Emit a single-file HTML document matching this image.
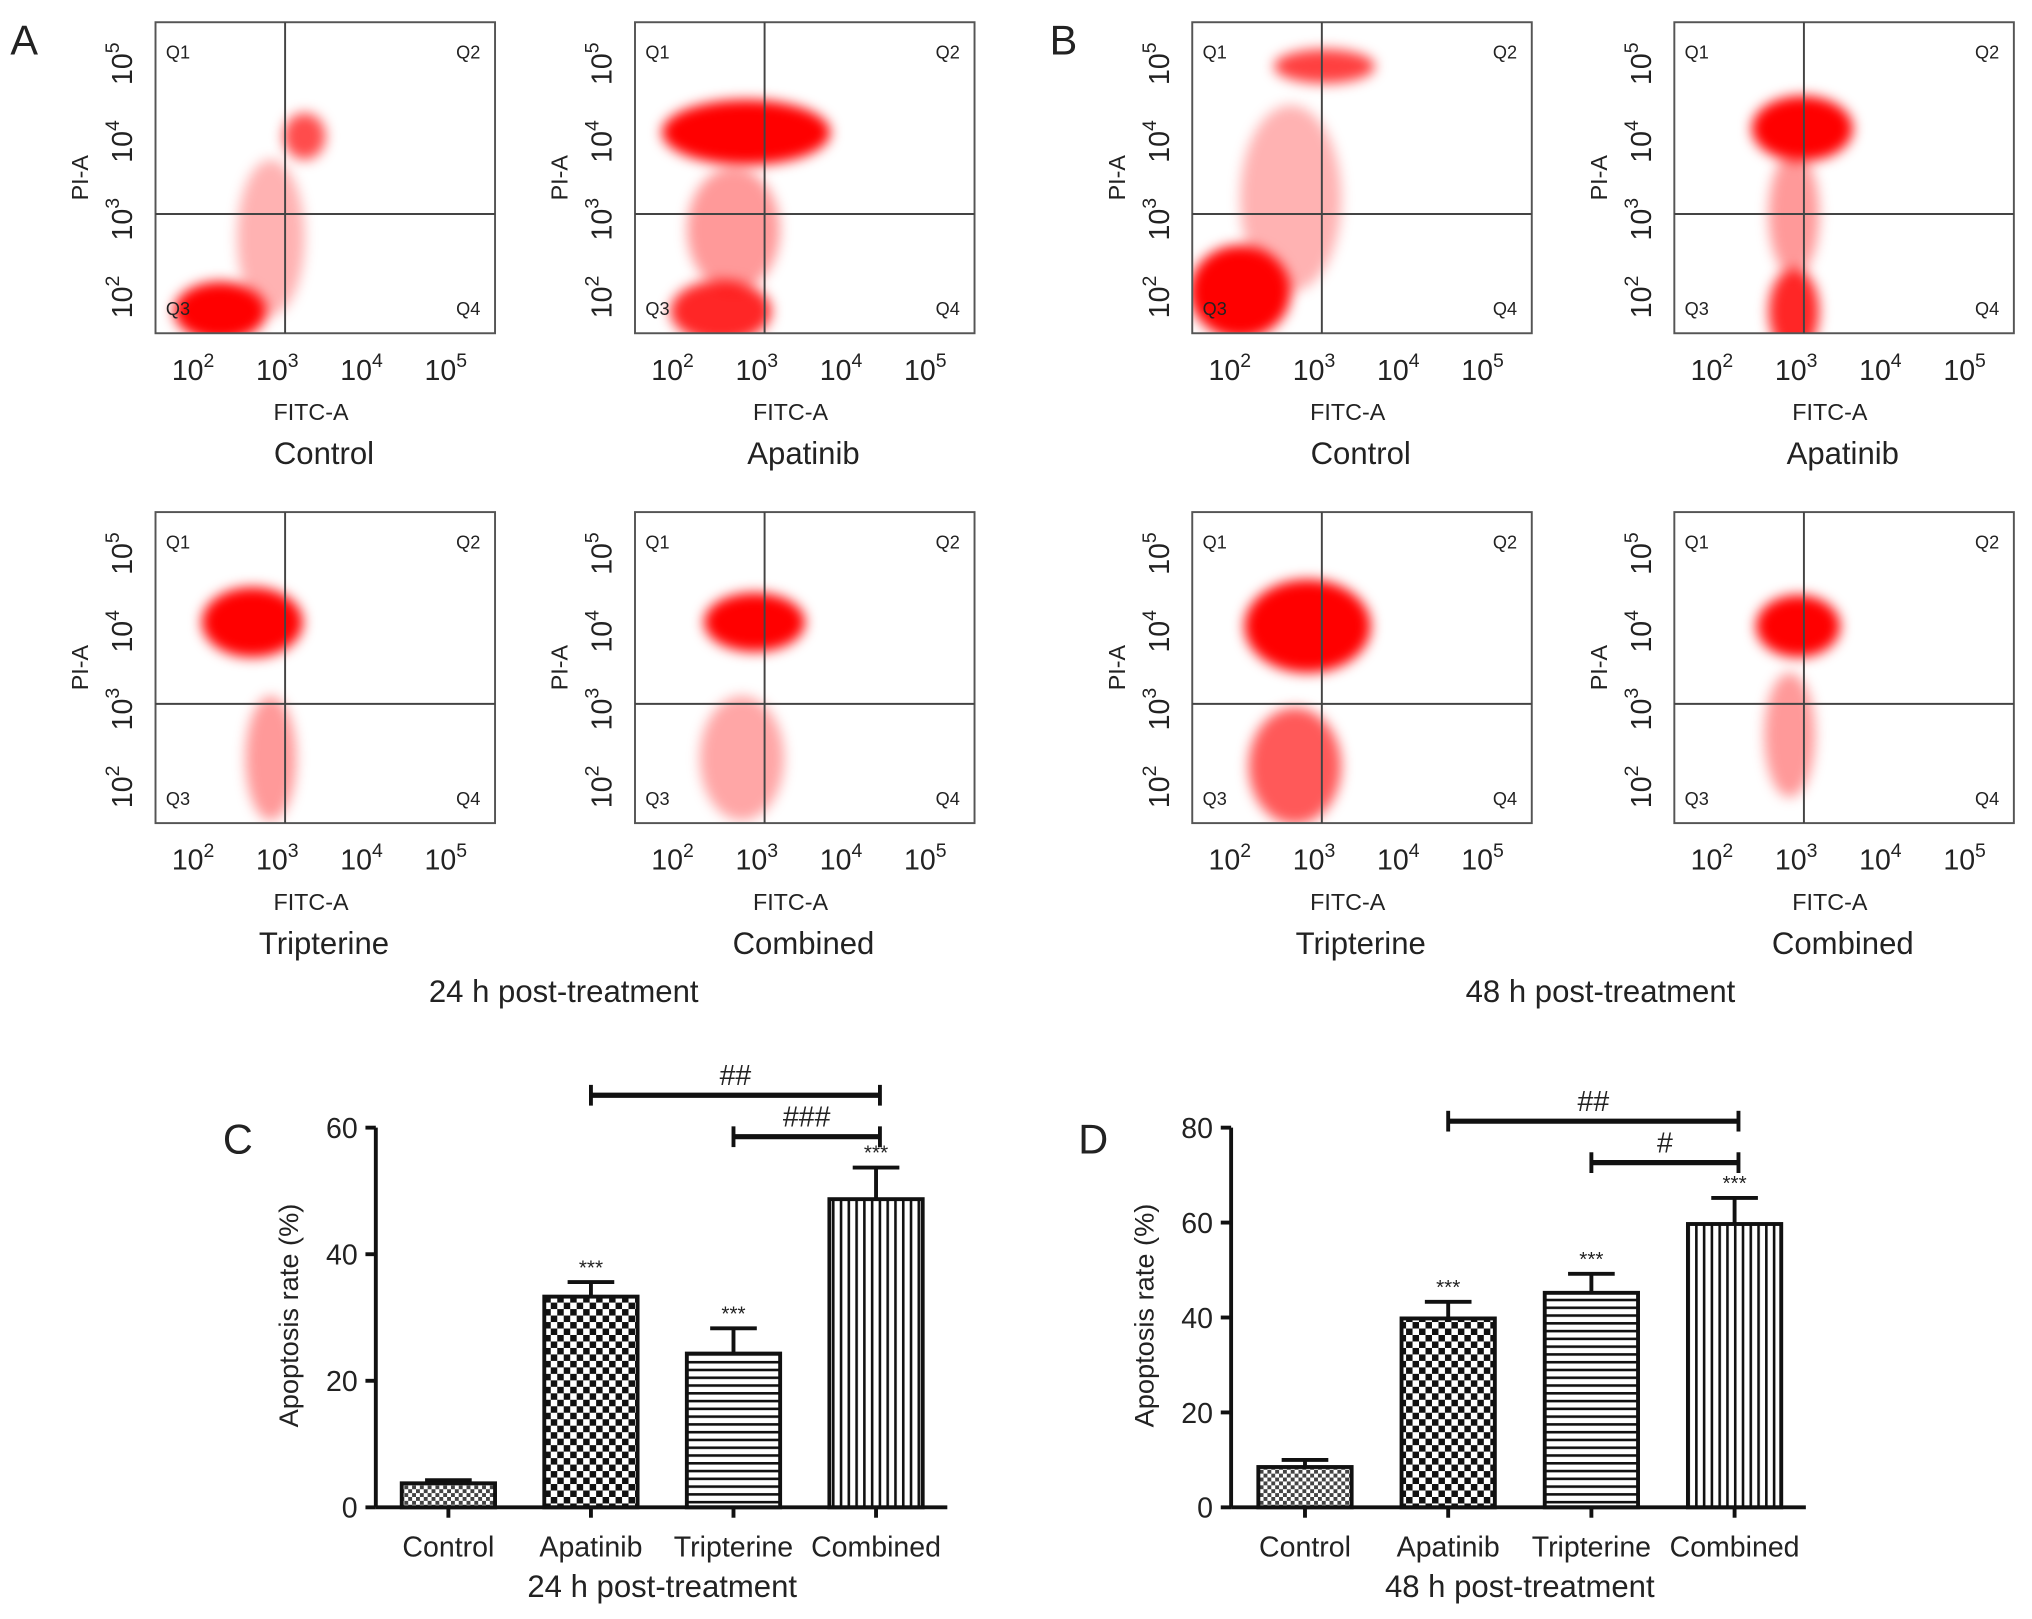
<!DOCTYPE html>
<html><head><meta charset="utf-8">
<style>
html,body{margin:0;padding:0;background:#fff;}
svg{display:block;}
text{font-family:"Liberation Sans",sans-serif;fill:#222;}
</style></head>
<body>
<svg id="fig" width="2032" height="1619" viewBox="0 0 1568 1249" xmlns="http://www.w3.org/2000/svg">
<defs>
<filter id="blur" x="-50%" y="-50%" width="200%" height="200%"><feGaussianBlur stdDeviation="5"/></filter>
<pattern id="pCtrl" width="6" height="6" patternUnits="userSpaceOnUse"><rect width="6" height="6" fill="#fff"/><rect width="3" height="3" fill="#444"/><rect x="3" y="3" width="3" height="3" fill="#444"/></pattern>
<pattern id="pApa" width="10" height="10" patternUnits="userSpaceOnUse"><rect width="10" height="10" fill="#fff"/><rect width="5" height="5" fill="#111"/><rect x="5" y="5" width="5" height="5" fill="#111"/></pattern>
<pattern id="pTri" width="6" height="6" patternUnits="userSpaceOnUse"><rect width="6" height="6" fill="#fff"/><rect width="6" height="2" fill="#111"/></pattern>
<pattern id="pCom" width="6" height="6" patternUnits="userSpaceOnUse"><rect width="6" height="6" fill="#fff"/><rect width="2" height="6" fill="#111"/></pattern>
</defs>
<text x="8" y="42" font-size="32">A</text>
<text x="810" y="42" font-size="32">B</text>
<text x="172" y="890" font-size="32">C</text>
<text x="832" y="890" font-size="32">D</text>
<text x="435" y="773" font-size="24" text-anchor="middle">24 h post-treatment</text>
<text x="1235" y="773" font-size="24" text-anchor="middle">48 h post-treatment</text>
<g id="flow"></g>
<g id="bars"></g>
</svg>
<script>
const NS='http://www.w3.org/2000/svg';
const panelPos=[[120,17,'Control'],[490,17,'Apatinib'],[920,17,'Control'],[1292,17,'Apatinib'],[120,395,'Tripterine'],[490,395,'Combined'],[920,395,'Tripterine'],[1292,395,'Combined']];
// clusters in log-decade units: [cx, cy, sx, sy, opacity]
const clusters0=[[2.2,1.75,0.55,0.38,1],[3.2,4.0,0.25,0.3,0.7],[2.8,2.7,0.4,1.0,0.3]];
const clusters1=[[2.75,4.05,1.0,0.42,1],[2.45,1.75,0.6,0.4,0.85],[2.6,2.8,0.55,0.8,0.4]];
const clusters2=[[2.0,2.0,0.6,0.6,1],[3.0,4.9,0.6,0.22,0.75],[2.6,3.2,0.6,1.2,0.3]];
const clusters3=[[2.95,4.1,0.6,0.42,1],[2.85,1.75,0.3,0.55,0.85],[2.85,3.0,0.3,0.8,0.4]];
const clusters4=[[2.58,4.05,0.6,0.45,1],[2.8,2.3,0.3,0.8,0.4]];
const clusters5=[[2.85,4.05,0.6,0.38,1],[2.7,2.3,0.5,0.8,0.35]];
const clusters6=[[2.8,4.0,0.75,0.6,1],[2.65,2.2,0.55,0.75,0.65]];
const clusters7=[[2.9,4.0,0.5,0.4,1],[2.8,2.6,0.3,0.8,0.4]];
const allClusters=[clusters0,clusters1,clusters2,clusters3,clusters4,clusters5,clusters6,clusters7];
const flowTicks=['2','3','4','5'];

function el(tag,attrs,parent,txt){const e=document.createElementNS(NS,tag);for(const k in attrs)e.setAttribute(k,attrs[k]);if(txt!==undefined)e.textContent=txt;parent.appendChild(e);return e;}
const flow=document.getElementById('flow');
panelPos.forEach((p,i)=>{
  const [L,T,title]=p, W=262, H=240;
  const xs=v=>L+37+(v-2)*65, ys=v=>T+208-(v-2)*60;
  const g=el('g',{},flow);
  
  
  el('clipPath',{id:'cp'+i},g); el('rect',{x:L,y:T,width:W,height:H},document.getElementById('cp'+i));
  const cg=el('g',{'clip-path':'url(#cp'+i+')'},g);
  allClusters[i].forEach((c,j)=>{
    const e=el('ellipse',{cx:xs(c[0]),cy:ys(c[1]),rx:c[2]*65,ry:c[3]*60,fill:'#f00','fill-opacity':c[4],filter:'url(#blur)'},cg);
    
    
  });
  el('rect',{x:L,y:T,width:W,height:H,fill:'none',stroke:'#555','stroke-width':1.5},g);
  el('line',{x1:L+100,x2:L+100,y1:T,y2:T+H,stroke:'#444','stroke-width':1.5},g);
  el('line',{x1:L,x2:L+W,y1:T+148,y2:T+148,stroke:'#444','stroke-width':1.5},g);
  [['Q1',L+8,T+28],['Q2',L+W-30,T+28],['Q3',L+8,T+226],['Q4',L+W-30,T+226]].forEach(q=>{
    const t=el('text',{x:q[1],y:q[2],'font-size':14},g,q[0]);
    
    
  });
  flowTicks.forEach(tk=>{
    const v=+tk;
    const tx=el('text',{x:xs(v)-8,y:T+H+36,'font-size':22,'text-anchor':'middle'},g);
    
    
    tx.innerHTML='10<tspan dy="-10" font-size="15">'+tk+'</tspan>';
    const ty=el('text',{transform:`translate(${L-18},${ys(v)+4}) rotate(-90)`,'font-size':22,'text-anchor':'middle'},g);
    
    
    ty.innerHTML='10<tspan dy="-10" font-size="15">'+tk+'</tspan>';
  });
  const xt=el('text',{x:L+120,y:T+307,'font-size':18,'text-anchor':'middle'},g,'FITC-A');
  
  
  const yt=el('text',{transform:`translate(${L-52},${T+120}) rotate(-90)`,'font-size':18,'text-anchor':'middle'},g,'PI-A');
  
  
  const tt=el('text',{x:L+130,y:T+341,'font-size':24,'text-anchor':'middle'},g,title);
  
  
});

const cCats=['Control','Apatinib','Tripterine','Combined'];
const cVals=[3.8,33.3,24.3,48.7];
const cErr=[0.5,2.3,4.0,5.0];
const cTicks=[0,20,40,60];
const dVals=[8.5,39.8,45.2,59.7];
const dErr=[1.5,3.5,4.0,5.5];
const dTicks=[0,20,40,60,80];
const fills=['url(#pCtrl)','url(#pApa)','url(#pTri)','url(#pCom)'];
const cSig=[[1,3,'##',845],[2,3,'###',877]];
const dSig=[[1,3,'##',865],[2,3,'#',897]];
const bars=document.getElementById('bars');
function barChart(ax,ymax,vals,errs,ticks,sig,x0,step,cap,name){
  const g=el('g',{},bars);
  
  
  const y0=1163,y1=870, ys=v=>y0-(v/ymax)*(y0-y1), xc=i=>x0+i*step, bw=72;
  vals.forEach((v,i)=>{
    const eb=el('line',{x1:xc(i),x2:xc(i),y1:ys(v),y2:ys(v+errs[i]),stroke:'#111','stroke-width':3},g);
    
    
    el('line',{x1:xc(i)-18,x2:xc(i)+18,y1:ys(v+errs[i]),y2:ys(v+errs[i]),stroke:'#111','stroke-width':3},g);
    const r=el('rect',{x:xc(i)-bw/2,y:ys(v),width:bw,height:y0-ys(v),fill:fills[i],stroke:'#111','stroke-width':3},g);
    
    
    if(i>0){const s=el('text',{x:xc(i),y:ys(v+errs[i])-6,'font-size':16,'text-anchor':'middle'},g,'***');
      
      }
    const l=el('text',{x:xc(i),y:1201,'font-size':22,'text-anchor':'middle'},g,cCats[i]);
    
    
  });
  el('line',{x1:ax,x2:ax,y1:y1,y2:y0,stroke:'#111','stroke-width':3},g);
  el('line',{x1:ax,x2:xc(3)+55,y1:y0,y2:y0,stroke:'#111','stroke-width':3},g);
  ticks.forEach(t=>{
    el('line',{x1:ax-8,x2:ax,y1:ys(t),y2:ys(t),stroke:'#111','stroke-width':3},g);
    const tl=el('text',{x:ax-14,y:ys(t)+8,'font-size':22,'text-anchor':'end'},g,t);
    
    
  });
  cCats.forEach((c,i)=>el('line',{x1:xc(i),x2:xc(i),y1:y0,y2:y0+8,stroke:'#111','stroke-width':3},g));
  const yt=el('text',{transform:`translate(${ax-60},1015) rotate(-90)`,'font-size':21,'text-anchor':'middle'},g,'Apoptosis rate (%)');
  
  
  const xt=el('text',{x:(xc(0)+xc(3))/2,y:1232,'font-size':24,'text-anchor':'middle'},g,cap);
  
  
  sig.forEach(s=>{
    const a=xc(s[0]),b=xc(s[1])+3;
    const ln=el('line',{x1:a,x2:b,y1:s[3],y2:s[3],stroke:'#111','stroke-width':4},g);
    
    
    el('line',{x1:a,x2:a,y1:s[3]-8,y2:s[3]+8,stroke:'#111','stroke-width':3},g);
    el('line',{x1:b,x2:b,y1:s[3]-8,y2:s[3]+8,stroke:'#111','stroke-width':3},g);
    const st=el('text',{x:(a+b)/2,y:s[3]-8,'font-size':22,'text-anchor':'middle'},g,s[2]);
    
    
  });
}
barChart(290,60,cVals,cErr,cTicks,cSig,346,110,'24 h post-treatment','bar-chart-24h');
barChart(950,80,dVals,dErr,dTicks,dSig,1007,110.5,'48 h post-treatment','bar-chart-48h');
</script>
</body></html>
